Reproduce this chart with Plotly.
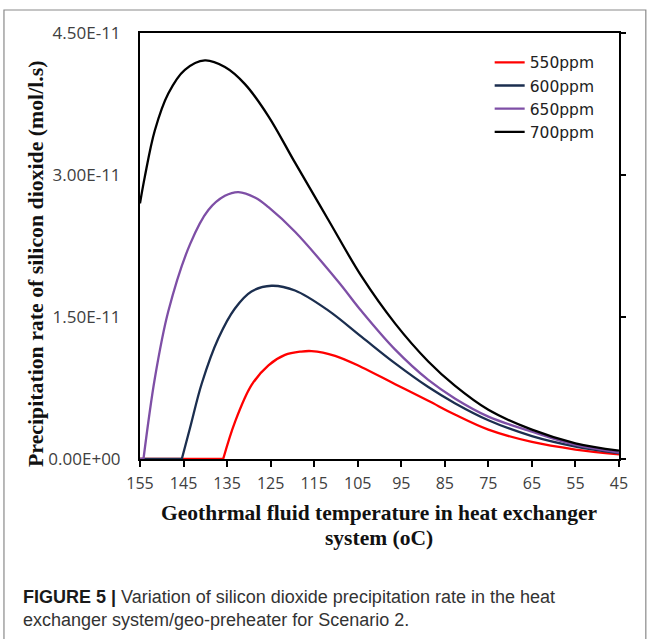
import plotly.graph_objects as go

# Temperatures (oC) and precipitation rates (mol/l.s)
T_550 = [155, 145, 135.9, 133.2, 129.4, 125.5, 121.7, 118, 115.6, 110.2, 104.1, 96.4, 88.8, 82.7, 75, 65, 55, 45]
V_550 = [0, 0, 0, 0.39e-11, 0.78e-11, 0.99e-11, 1.10e-11, 1.135e-11, 1.14e-11, 1.09e-11, 0.97e-11, 0.79e-11,
         0.615e-11, 0.47e-11, 0.31e-11, 0.18e-11, 0.10e-11, 0.048e-11]

T_600 = [155, 150, 145.4, 143.5, 140.8, 137.0, 133.2, 129.4, 124.8, 119.4, 111.8, 104.1, 96.4, 88.8, 82.7, 75, 65, 55, 45]
V_600 = [0, 0, 0, 0.33e-11, 0.80e-11, 1.275e-11, 1.59e-11, 1.77e-11, 1.83e-11, 1.78e-11, 1.57e-11, 1.29e-11,
         1.01e-11, 0.76e-11, 0.59e-11, 0.41e-11, 0.242e-11, 0.132e-11, 0.062e-11]

T_650 = [155, 154.2, 151.6, 148.5, 143.5, 139.3, 135.5, 132.4, 128.5, 125.5, 119.4, 109.5, 104.1, 96.4, 88.8, 82.7, 75, 65, 55, 45]
V_650 = [0, 0, 0.85e-11, 1.56e-11, 2.27e-11, 2.63e-11, 2.78e-11, 2.82e-11, 2.76e-11, 2.66e-11, 2.40e-11, 1.875e-11,
         1.56e-11, 1.155e-11, 0.835e-11, 0.64e-11, 0.448e-11, 0.288e-11, 0.148e-11, 0.068e-11]

T_700 = [155, 153.9, 151.6, 148.5, 144.7, 140.1, 135.5, 130.9, 125.5, 119.4, 111.8, 104, 96.4, 88.8, 82.7, 75, 65, 55, 45]
V_700 = [2.70e-11, 2.98e-11, 3.47e-11, 3.86e-11, 4.11e-11, 4.21e-11, 4.14e-11, 3.96e-11, 3.62e-11, 3.13e-11, 2.53e-11,
         1.92e-11, 1.43e-11, 1.03e-11, 0.775e-11, 0.52e-11, 0.31e-11, 0.166e-11, 0.088e-11]

series = [
    ("550ppm", T_550, V_550, "#FF0000"),
    ("600ppm", T_600, V_600, "#1B2E4F"),
    ("650ppm", T_650, V_650, "#7E4FA6"),
    ("700ppm", T_700, V_700, "#000000"),
]

x_ticks = [155, 145, 135, 125, 115, 105, 95, 85, 75, 65, 55, 45]
y_ticks = [0, 1.5e-11, 3.0e-11, 4.5e-11]
y_tick_labels = ["0.00E+00", "1.50E-11", "3.00E-11", "4.50E-11"]

fig = go.Figure()
for name, t, v, c in series:
    # index of the last zero-rate point (onset of precipitation)
    onset = 0
    for i, val in enumerate(v):
        if val == 0:
            onset = i
    if onset > 0:
        fig.add_trace(go.Scatter(
            x=t[:onset + 1], y=v[:onset + 1], mode="lines", showlegend=False, hoverinfo="skip",
            line=dict(color=c, width=2.3),
        ))
    fig.add_trace(go.Scatter(
        x=t[onset:], y=v[onset:], name=name, mode="lines",
        line=dict(color=c, width=2.3, shape="spline", smoothing=1.0),
    ))

# invisible trace carrying the right-hand axis ticks
fig.add_trace(go.Scatter(x=[155], y=[0], yaxis="y2", showlegend=False,
                         mode="markers", marker=dict(opacity=0), hoverinfo="skip"))

x_tick_font = dict(family="Open Sans, Liberation Sans, sans-serif", size=16, color="#404040")
y_tick_font = dict(family="Open Sans, Liberation Sans, sans-serif", size=17, color="#404040")
serif = "Liberation Serif, Times New Roman, serif"
caption_font = "Liberation Sans, Arial, sans-serif"

fig.update_layout(
    width=647, height=639,
    margin=dict(l=140, r=28, t=33, b=180),
    paper_bgcolor="white", plot_bgcolor="white",
    showlegend=True,
    legend=dict(x=0.73, y=0.97, xanchor="left", yanchor="top",
                bgcolor="rgba(0,0,0,0)",
                font=dict(family="DejaVu Sans, sans-serif", size=15.5, color="#222222")),
    xaxis=dict(
        range=[155, 45], tickmode="array", tickvals=x_ticks,
        ticks="outside", ticklen=6, tickwidth=2, tickcolor="black",
        showline=True, linewidth=2, linecolor="black", mirror=True,
        showgrid=False, zeroline=False, tickfont=x_tick_font, ticklabelstandoff=3,
        layer="below traces",
    ),
    yaxis=dict(
        range=[0, 4.5e-11], tickmode="array", tickvals=y_ticks, ticktext=y_tick_labels,
        ticks="", showline=True, linewidth=2, linecolor="black", mirror=True,
        showgrid=False, zeroline=False, tickfont=y_tick_font, ticklabelstandoff=14,
        layer="below traces",
    ),
    yaxis2=dict(
        range=[0, 4.5e-11], overlaying="y", side="right", tickmode="array", tickvals=y_ticks,
        ticks="outside", ticklen=6, tickwidth=2, tickcolor="black", showticklabels=False,
        showline=False, showgrid=False, zeroline=False,
    ),
    shapes=[dict(type="rect", xref="paper", yref="paper", x0=-0.284, x1=1.056, y0=-0.45, y1=1.054,
                 line=dict(color="#8a8a8a", width=1.2), layer="below")],
    annotations=[
        dict(text="<b>Geothrmal fluid temperature in heat exchanger</b>", xref="paper", yref="paper",
             x=0.499, y=-0.127, xanchor="center", yanchor="middle", showarrow=False,
             font=dict(family=serif, size=21.5, color="#111111")),
        dict(text="<b>system (oC)</b>", xref="paper", yref="paper",
             x=0.499, y=-0.185, xanchor="center", yanchor="middle", showarrow=False,
             font=dict(family=serif, size=21.5, color="#111111")),
        dict(text="<b>Precipitation rate of silicon dioxide (mol/l.s)</b>", xref="paper", yref="paper",
             x=-0.217, y=0.458, xanchor="center", yanchor="middle", showarrow=False, textangle=-90,
             font=dict(family=serif, size=21.8, color="#111111")),
        dict(text="<b>FIGURE 5 |</b> <span style='color:#333333'>Variation of silicon dioxide precipitation rate in the heat</span>",
             xref="paper", yref="paper", x=-0.249, y=-0.324, xanchor="left", yanchor="middle",
             showarrow=False, align="left",
             font=dict(family=caption_font, size=18, color="#1a1a1a")),
        dict(text="exchanger system/geo-preheater for Scenario 2.",
             xref="paper", yref="paper", x=-0.249, y=-0.378, xanchor="left", yanchor="middle",
             showarrow=False, align="left",
             font=dict(family=caption_font, size=18, color="#333333")),
    ],
)

fig.write_html("out.html", config={"displayModeBar": False},
               post_script="document.body.style.margin='0';")
